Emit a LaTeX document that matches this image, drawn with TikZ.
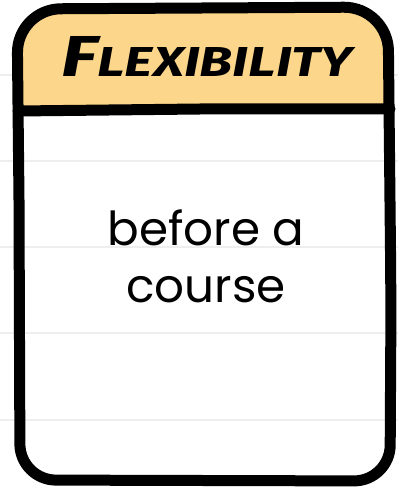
\documentclass[tikz,border=0pt]{standalone}
\usepackage{fontspec}
\newfontfamily\bodyfont{Poppins}
\newfontfamily\titlefont{Fira Sans}
\definecolor{hdr}{HTML}{FCD68A}
\definecolor{rule}{HTML}{EEEEEE}
\begin{document}
\begin{tikzpicture}[x=1bp,y=-1bp,
  ruleline/.style={rule,line width=2bp},
  cardline/.style={black,line width=11bp,line join=round,line cap=round}]
\useasboundingbox (0,0) rectangle (398,488);
\fill[white] (0,0) rectangle (398,488);
\foreach \yy in {75,161,247,333,420} \draw[ruleline] (0,\yy) -- (398,\yy);
% header fill
\fill[hdr] (18,111) {[rounded corners=44bp] -- (17,9) -- (388,7)} -- (390,109) -- cycle;
% outer border
\draw[cardline,rounded corners=44bp] (19,200) -- (17,9) -- (388,7) -- (391,300) {[rounded corners=36bp] -- (390,481) -- (20,480)} -- (19,200);
% divider
\draw[cardline] (18,111) -- (200,109) -- (390,109);
\node[font=\titlefont\bfseries\itshape, inner sep=0, anchor=base, xscale=1.3] (title) at (207,77) {{\fontsize{58}{58}\selectfont F}{\fontsize{42}{42}\selectfont LEXIBILITY}};
\node[font=\bodyfont\fontsize{47}{57}\selectfont, align=center, inner sep=0, anchor=base] (body) at (206,302) {before a\\course};
\end{tikzpicture}
\end{document}
